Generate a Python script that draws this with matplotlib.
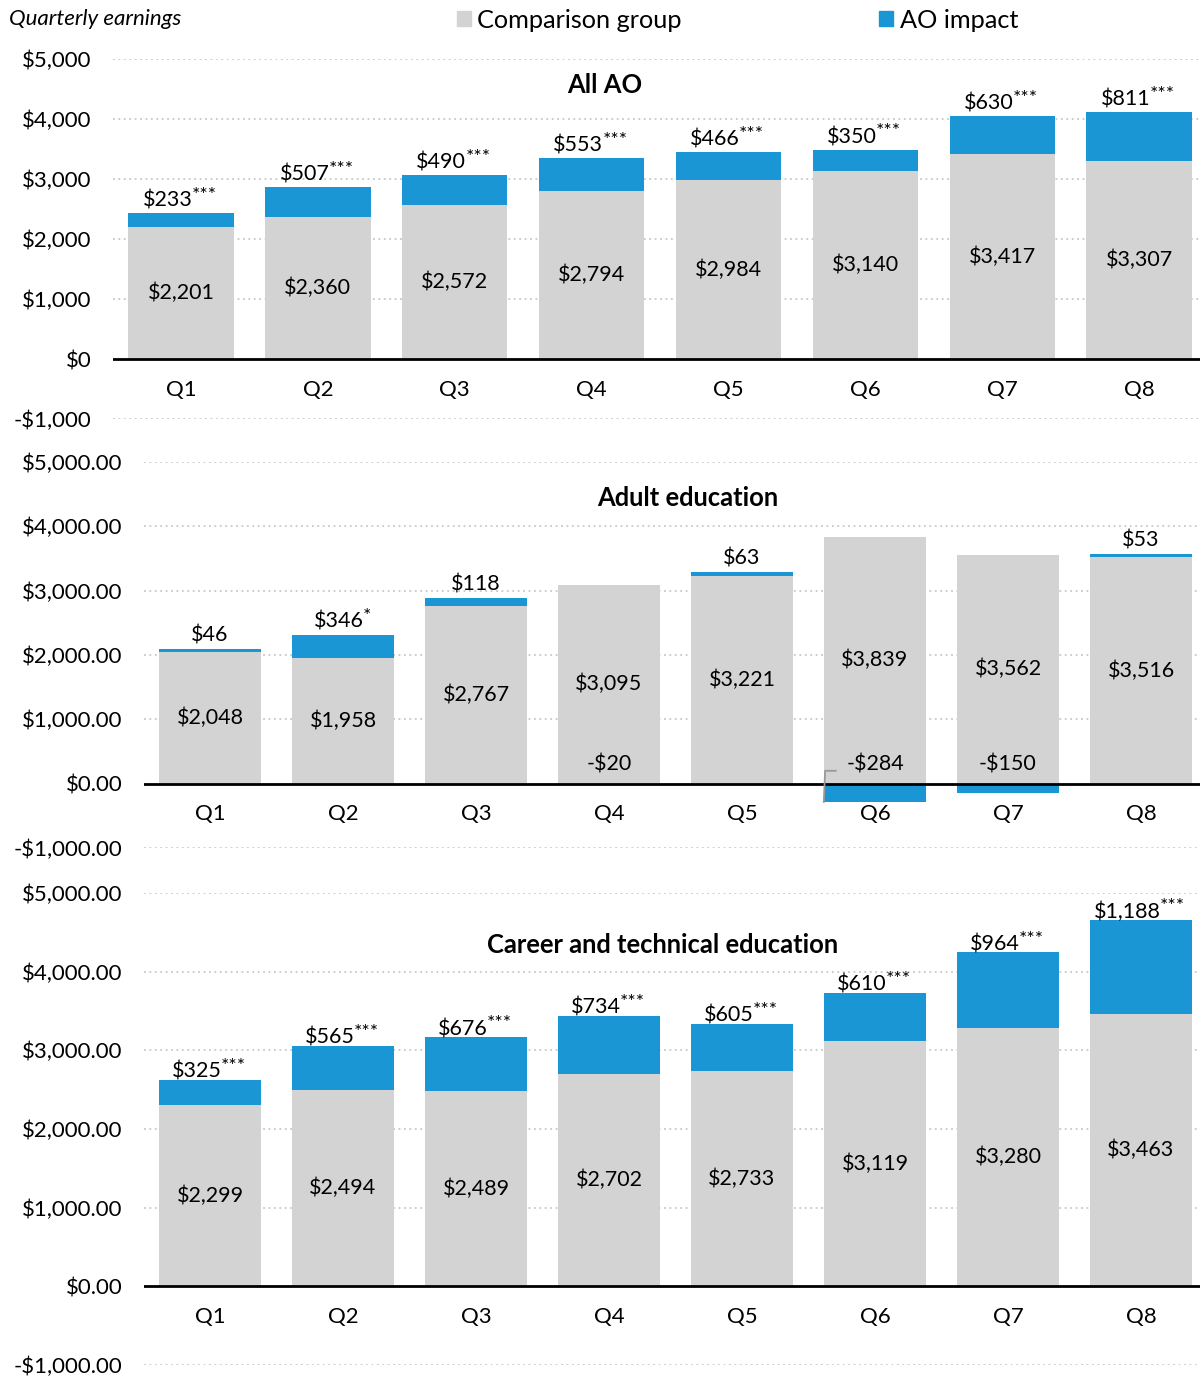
import matplotlib.pyplot as plt
from matplotlib.patches import Patch
from matplotlib.ticker import FuncFormatter

plt.rcParams['font.family'] = ['Lato', 'DejaVu Sans']

quarters = ['Q1', 'Q2', 'Q3', 'Q4', 'Q5', 'Q6', 'Q7', 'Q8']

all_comp = [2201, 2360, 2572, 2794, 2984, 3140, 3417, 3307]
all_impact = [233, 507, 490, 553, 466, 350, 630, 811]
all_stars = ['***'] * 8

adult_comp = [2048, 1958, 2767, 3095, 3221, 3839, 3562, 3516]
adult_impact = [46, 346, 118, -20, 63, -284, -150, 53]
adult_stars = ['', '*', '', '', '', '', '', '']

cte_comp = [2299, 2494, 2489, 2702, 2733, 3119, 3280, 3463]
cte_impact = [325, 565, 676, 734, 605, 610, 964, 1188]
cte_stars = ['***'] * 8

GREY = '#d3d3d3'
BLUE = '#1996d3'
W = 0.77

fig = plt.figure(figsize=(12, 13.76), dpi=100)


def money(v):
    s = f"${abs(v):,.0f}"
    return '-' + s if v < 0 else s


def panel(rect, title, title_pos, comp, impact, stars, decimals, lab_off):
    ax = fig.add_axes(rect)
    x = list(range(len(quarters)))
    ax.bar(x, comp, width=W, color=GREY, zorder=2)
    bottoms = [c if v >= 0 else 0 for c, v in zip(comp, impact)]
    ax.bar(x, impact, bottom=bottoms, width=W, color=BLUE, zorder=2)

    ax.set_xlim(-0.5, 7.5)
    ax.set_ylim(-1000, 5000)
    ax.set_yticks(range(-1000, 5001, 1000))
    fmt = '{:,.2f}' if decimals else '{:,.0f}'
    ax.yaxis.set_major_formatter(FuncFormatter(
        lambda v, p: ('-$' if v < 0 else '$') + fmt.format(abs(v))))
    ax.tick_params(axis='y', length=0, pad=15, labelsize=16)
    ax.set_xticks([])
    for s in ax.spines.values():
        s.set_visible(False)
    ax.grid(axis='y', color='#c8c8c8', linestyle=(0, (1, 2)), linewidth=1.3, zorder=0)
    ax.axhline(0, color='black', linewidth=2, zorder=3)

    for i, q in enumerate(quarters):
        ax.annotate(q, (i, 0), xytext=(0, -22), textcoords='offset points',
                    ha='center', va='center', fontsize=16)
        ax.text(i, comp[i] / 2, money(comp[i]), ha='center', va='center', fontsize=15.5, zorder=4)
        v = impact[i]
        if v >= 0:
            shift = 6.5 * len(stars[i]) / 2
            main = ax.annotate(money(v), (i, comp[i] + v), xytext=(-shift, lab_off),
                               textcoords='offset points', ha='center', va='center',
                               fontsize=15.5, zorder=4, annotation_clip=False)
            if stars[i]:
                ax.annotate(stars[i], xy=(1, 1), xycoords=main, xytext=(-0.6, 2.6),
                            textcoords='offset points', ha='left', va='top',
                            fontsize=14, zorder=4)
        else:
            ax.annotate(money(v), (i, 0), xytext=(0, 14), textcoords='offset points',
                        ha='center', va='center', fontsize=15.5, zorder=4)
            if v < -200 and i == 5:
                xl = i - W / 2
                ax.plot([xl + 0.09, xl + 0.01, xl], [200, 200, v], color='#999999',
                        linewidth=1.3, zorder=5, clip_on=False)

    fig.text(title_pos[0], title_pos[1], title, ha='center', va='center',
             fontsize=18.4, fontweight='bold')
    return ax


panel([112.6 / 1200, 1 - 419 / 1376, 1095 / 1200, 360 / 1376], 'All AO',
      (605 / 1200, 1 - 85 / 1376), all_comp, all_impact, all_stars, False, 9)
panel([143.5 / 1200, 1 - 848 / 1376, 1064 / 1200, 386 / 1376], 'Adult education',
      (688 / 1200, 1 - 498 / 1376), adult_comp, adult_impact, adult_stars, True, 10)
panel([143.5 / 1200, 1 - 1365 / 1376, 1064 / 1200, 472 / 1376], 'Career and technical education',
      (663 / 1200, 1 - 945 / 1376), cte_comp, cte_impact, cte_stars, True, 6)

fig.text(9 / 1200, 1 - 19 / 1376, 'Quarterly earnings', style='italic', fontsize=16,
         ha='left', va='center')

handles = [Patch(color=GREY, label='Comparison group'), Patch(color=BLUE, label='AO impact')]
fig.legend(handles=handles, ncol=2, loc='center left', bbox_to_anchor=(457 / 1200, 1 - 20 / 1376),
           frameon=False, fontsize=18.2, handlelength=0.56, handleheight=0.56,
           handletextpad=0.25, columnspacing=7.8, borderpad=0, borderaxespad=0)

fig.savefig('out.png', dpi=100)
